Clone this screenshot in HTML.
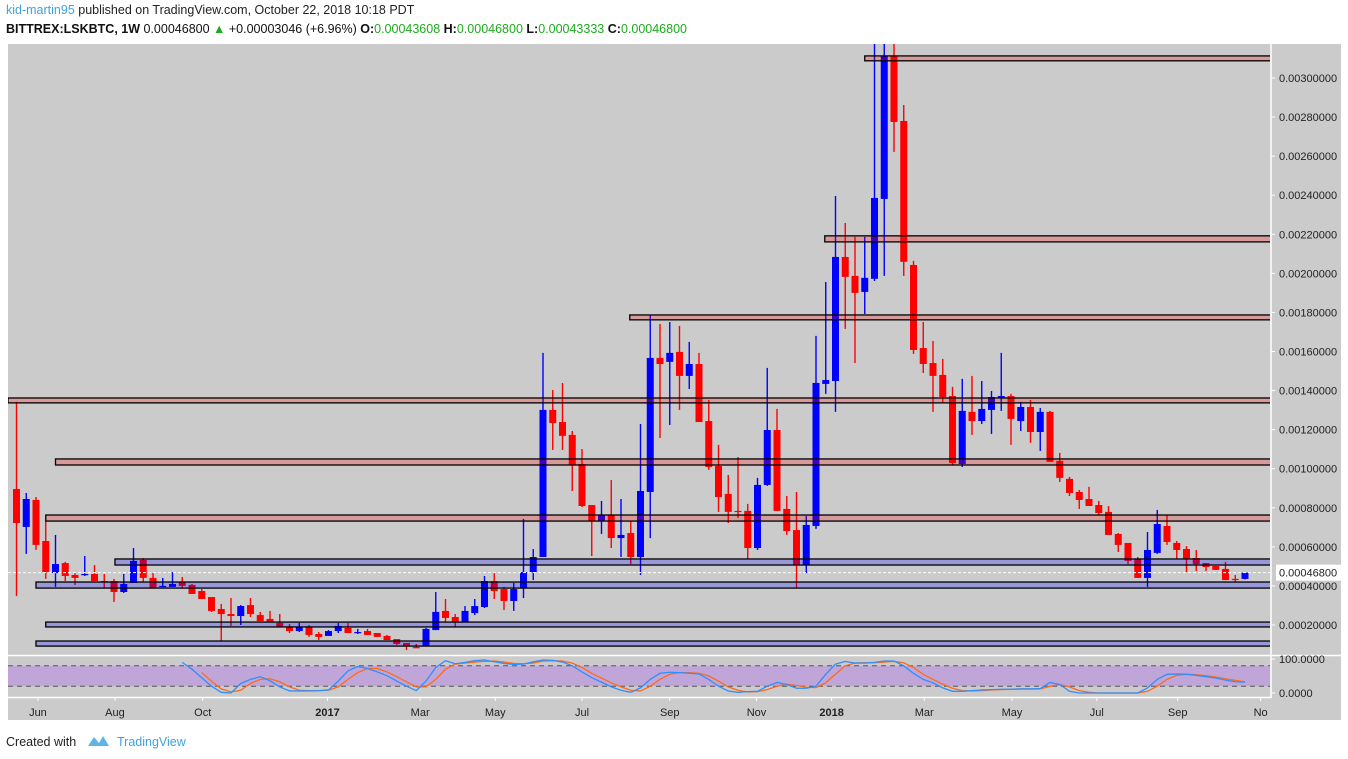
<!DOCTYPE html>
<html><head><meta charset="utf-8"><style>
body{margin:0;background:#fff;width:1348px;height:759px;overflow:hidden;font-family:"Liberation Sans",sans-serif}
svg{position:absolute;left:0;top:0}
</style></head><body>
<svg id="chart" width="1348" height="759" xmlns="http://www.w3.org/2000/svg">
<text x="6" y="14" font-size="12.5" fill="#222"><tspan fill="#3fa1dc">kid-martin95</tspan> published on TradingView.com, October 22, 2018 10:18 PDT</text>
<text x="6" y="33" font-size="12.5" fill="#111"><tspan font-weight="bold">BITTREX:LSKBTC, 1W</tspan> 0.00046800 <tspan fill="#1eaa1e">▲</tspan> +0.00003046 (+6.96%) <tspan font-weight="bold">O:</tspan><tspan fill="#1eaa1e">0.00043608</tspan> <tspan font-weight="bold">H:</tspan><tspan fill="#1eaa1e">0.00046800</tspan> <tspan font-weight="bold">L:</tspan><tspan fill="#1eaa1e">0.00043333</tspan> <tspan font-weight="bold">C:</tspan><tspan fill="#1eaa1e">0.00046800</tspan></text>
<rect x="8" y="44" width="1333" height="676" fill="#cbcbcb"/>
<defs><clipPath id="mainclip"><rect x="8" y="44" width="1262" height="611"/></clipPath><clipPath id="subclip"><rect x="8" y="657" width="1262" height="40"/></clipPath></defs>
<g id="candles" clip-path="url(#mainclip)"></g>
<g id="zones" clip-path="url(#mainclip)"></g>
<line x1="8" x2="1270" y1="572.6" y2="572.6" stroke="#fff" stroke-dasharray="3,2"/>
<g id="stoch"></g>
<line x1="1271" x2="1271" y1="44" y2="698" stroke="#fff" stroke-width="1.5"/>
<line x1="8" x2="1341" y1="655.5" y2="655.5" stroke="#fff" stroke-width="1.5"/>
<line x1="8" x2="1271" y1="697.5" y2="697.5" stroke="#fff" stroke-width="1.5"/>
<g id="yaxis"></g>
<g id="xaxis"></g>
<text x="6" y="746" font-size="12.5" fill="#222">Created with</text>
<path d="M88 746 l6 -9 l5 6 l4 -7 l6 10 z" fill="#5fb4e6"/>
<text x="117" y="746" font-size="12.5" fill="#3fa1dc">TradingView</text>
</svg>
<script>
// prices in units of 1e-5 BTC
const opens=[89.6,70.2,84.0,63.0,46.6,51.7,45.6,45.6,46.1,42.5,42.5,36.9,41.5,53.3,44.1,39.5,39.5,42.0,40.5,37.4,34.3,28.2,25.6,24.6,30.2,25.1,23.1,21.0,19.0,16.9,19.0,15.4,14.4,16.9,18.5,15.9,16.9,15.9,14.4,12.8,10.8,8.7,9.2,17.4,27.2,24.1,21.5,26.1,29.2,42.5,38.4,32.3,38.9,47.1,54.8,130.1,123.9,117.3,102.4,81.4,73.2,76.3,64.5,67.1,54.8,88.1,156.7,154.7,159.8,147.5,153.6,124.4,101.4,87.1,78.4,78.4,59.4,91.7,119.8,79.4,68.6,50.7,70.7,143.4,144.9,208.4,198.7,190.5,197.2,238.1,311.3,278.0,204.3,161.8,154.1,148.0,137.2,102.4,129.1,124.4,130.1,136.2,137.2,124.4,131.6,118.8,129.1,104.0,94.8,88.1,84.5,81.4,77.9,66.6,62.0,53.8,44.1,56.9,70.7,62.0,58.9,54.3,51.7,50.2,48.7,43.6,43.6];
const highs=[134.2,87.6,85.5,73.2,66.1,52.3,46.6,55.3,50.7,46.1,43.6,46.1,59.4,54.3,46.6,44.1,47.1,44.6,41.0,38.4,34.3,30.8,33.8,30.2,33.8,26.7,27.2,25.6,20.5,21.0,20.0,16.4,17.4,21.0,21.0,18.0,18.0,15.9,14.9,12.8,10.8,10.3,18.5,36.9,33.3,25.6,29.7,33.3,45.1,47.1,39.5,41.5,74.3,58.9,159.3,140.3,143.9,119.3,110.1,81.4,83.5,94.2,84.5,73.2,122.9,178.7,174.1,175.1,173.1,164.9,159.3,135.2,112.2,96.8,106.0,82.0,95.3,151.6,130.6,86.0,88.1,75.8,168.0,195.6,239.6,225.8,218.7,218.7,335,335,330,286.2,206.4,175.1,165.4,156.2,141.9,146.0,147.5,144.9,139.8,159.3,138.3,134.2,135.2,131.1,129.6,108.1,95.8,89.1,90.7,83.5,80.9,67.1,62.0,54.8,67.6,78.9,76.3,63.0,60.4,58.4,51.7,50.2,52.3,45.6,46.8];
const lows=[34.8,56.4,58.4,43.6,39.5,42.5,40.5,45.1,42.5,38.9,31.8,36.4,41.5,42.0,38.9,39.5,39.5,38.9,35.9,33.3,26.7,11.8,19.5,20.0,24.1,22.0,21.5,19.0,15.9,16.4,13.9,12.3,14.4,15.9,15.9,15.4,14.9,13.9,12.3,9.8,7.2,8.2,9.2,17.4,21.5,19.0,21.5,25.1,28.7,33.3,27.7,27.2,33.8,43.0,54.8,109.6,109.6,88.6,80.4,55.3,66.6,59.4,54.8,51.2,45.6,64.5,115.7,122.4,130.1,140.8,123.9,99.4,77.9,72.2,74.8,53.8,58.4,91.2,78.4,66.1,38.9,46.6,69.2,138.3,129.1,171.6,154.1,179.2,196.1,198.7,262.2,198.7,158.8,149.0,129.1,133.7,101.9,100.9,117.3,122.9,117.8,129.6,112.2,119.3,113.2,109.1,103.5,93.2,86.0,79.4,80.9,76.3,66.1,57.4,51.2,44.1,39.5,56.4,61.0,53.8,47.1,47.6,47.6,48.2,43.0,42.0,43.3];
const closes=[72.2,84.5,61.0,47.1,51.2,45.1,44.1,46.1,42.5,42.0,36.9,41.0,52.8,44.1,38.9,40.0,41.0,40.0,35.9,33.3,27.2,25.6,24.6,29.7,25.6,22.0,21.5,19.0,16.9,19.0,14.9,13.9,16.9,19.5,15.9,16.4,14.9,13.9,12.3,10.3,9.2,8.2,18.0,26.7,23.6,21.5,27.2,29.7,42.5,37.4,32.3,38.4,47.1,54.8,130.1,123.4,116.8,101.9,80.9,73.2,76.3,64.5,66.1,54.8,88.6,156.7,153.6,159.3,147.5,153.6,123.9,100.9,85.5,77.9,77.9,59.4,91.7,119.8,78.4,68.1,50.7,71.2,143.9,145.4,208.4,198.2,190.0,197.7,238.6,311.3,277.5,205.9,160.8,153.6,147.5,136.7,102.9,129.6,124.4,130.6,136.7,137.2,125.5,131.6,118.8,129.1,103.5,95.3,87.6,84.0,80.9,77.3,66.1,61.0,52.8,44.1,58.4,71.7,62.5,58.4,53.8,51.2,49.7,48.2,43.0,43.3,46.8];
// support/resistance zones [top, bottom, startIndex]
const zoneTops=[311.3,219.2,178.7,136.2,105.0,76.3,53.8,42.0,21.5,11.8];
const zoneBottoms=[308.8,216.1,176.2,133.7,101.9,73.2,50.7,38.9,19.0,9.2];
const zoneStarts=[87.0,82.9,62.9,-0.9,4.0,3.0,10.1,2.0,3.0,2.0];
const zoneKinds=["res","res","res","res","res","res","sup","sup","sup","sup"];
// stoch RSI (%K, %D)
const stochK=[null,null,null,null,null,null,null,null,null,null,null,null,null,null,null,null,null,90,70,45,20,2,0,28,40,48,36,18,6,6,6,7,9,35,65,78,72,62,51,35,20,7,35,75,95,86,90,95,97,92,87,84,85,92,97,96,91,80,62,45,32,18,8,2,15,40,58,61,60,58,56,40,20,6,2,4,5,20,31,25,14,14,20,55,85,93,88,88,90,94,94,80,58,40,30,15,5,5,7,9,10,11,11,12,12,13,31,25,5,0,0,0,0,0,0,0,15,40,55,56,55,52,48,44,38,33,32];
const stochD=[null,null,null,null,null,null,null,null,null,null,null,null,null,null,null,null,null,null,null,60,35,12,3,8,28,40,42,33,18,8,7,7,8,18,40,60,72,72,62,48,33,18,18,40,70,85,88,91,93,94,91,87,86,88,94,95,94,88,75,58,44,30,18,8,6,20,40,55,60,60,58,50,35,18,8,3,4,10,20,26,22,17,16,30,55,80,88,89,89,91,93,89,75,55,40,26,14,7,6,7,9,10,11,12,12,12,20,25,18,7,2,0,0,0,0,0,5,20,40,52,55,54,51,47,42,37,33];
const priceTicks=[0.003,0.0028,0.0026,0.0024,0.0022,0.002,0.0018,0.0016,0.0014,0.0012,0.001,0.0008,0.0006,0.0004,0.0002];
const timeLabels=["Jun","Aug","Oct","2017","Mar","May","Jul","Sep","Nov","2018","Mar","May","Jul","Sep","No"];
const timeLabelIdx=[2.2,10.1,19.1,31.9,41.4,49.1,58.0,67.0,75.9,83.6,93.1,102.1,110.8,119.1,127.6];
const lastPrice=46.8;

const NS="http://www.w3.org/2000/svg";
const xS=k=>16.5+9.75*k;
const yS=p=>625-(p-20)*1.9536;
const yK=v=>693-v*0.34;
function mk(tag,attrs,parent){const e=document.createElementNS(NS,tag);for(const a in attrs)e.setAttribute(a,attrs[a]);parent.appendChild(e);return e;}

const cg=document.getElementById('candles');
for(let i=0;i<opens.length;i++){
  const up=closes[i]>=opens[i];const col=up?'#0000ff':'#ff0000';const x=xS(i);
  const w=mk('line',{x1:x,x2:x,y1:yS(highs[i]),y2:yS(lows[i]),stroke:col,'stroke-width':1.4},cg);
  
  
  const t=yS(Math.max(opens[i],closes[i])),b=yS(Math.min(opens[i],closes[i]));
  const r=mk('rect',{x:x-3.5,y:t,width:7,height:Math.max(1.2,b-t),fill:col},cg);
  
  
}
const zg=document.getElementById('zones');
for(let i=0;i<zoneTops.length;i++){
  const x0=Math.max(8,xS(zoneStarts[i]));const t=yS(zoneTops[i]),b=yS(zoneBottoms[i]);
  const r=mk('rect',{x:x0,y:t,width:1270-x0+2,height:b-t,fill:zoneKinds[i]=='res'?'rgba(255,0,0,0.24)':'rgba(0,0,255,0.25)',stroke:'#000','stroke-width':1.3},zg);
  
  
}
const sg=document.getElementById('stoch');
const band=mk('rect',{x:8,y:yK(80),width:1262,height:yK(20)-yK(80),fill:'#c0a6d8'},sg);


[80,20].forEach(v=>{const l=mk('line',{x1:8,x2:1270,y1:yK(v),y2:yK(v),stroke:'#555','stroke-dasharray':'5,4'},sg);

});
function poly(arr,col,name){let pts=[];arr.forEach((v,i)=>{if(v!==null)pts.push(xS(i)+','+yK(v));});
  const p=mk('polyline',{points:pts.join(' '),fill:'none',stroke:col,'stroke-width':1.3},sg);
  
  }
poly(stochD,'#ff6a1a','stoch-d-line');
poly(stochK,'#2f8fff','stoch-k-line');

const yg=document.getElementById('yaxis');
priceTicks.forEach(p=>{const y=yS(p*1e5);
  const tk=mk('line',{x1:1271,x2:1275,y1:y,y2:y,stroke:'#fff'},yg);
  
  
  const t=mk('text',{x:1279,y:y+4,'font-size':11,fill:'#222'},yg);t.textContent=p.toFixed(8);
  
  });
const ly=yS(lastPrice);
const lb=mk('rect',{x:1276,y:ly-8,width:65,height:16,fill:'#fff'},yg);


const lt=mk('text',{x:1279,y:ly+4,'font-size':11,fill:'#222'},yg);lt.textContent=(lastPrice/1e5).toFixed(8);


[[100,'100.0000'],[0,'0.0000']].forEach(([v,s])=>{const y=yK(v);
  const tk=mk('line',{x1:1271,x2:1275,y1:y,y2:y,stroke:'#fff'},yg);
  
  
  const t=mk('text',{x:1279,y:y+4,'font-size':11,fill:'#222'},yg);t.textContent=s;
  
  });
const xg=document.getElementById('xaxis');
timeLabels.forEach((s,i)=>{const x=xS(timeLabelIdx[i]);
  const tk=mk('line',{x1:x,x2:x,y1:697,y2:701,stroke:'#fff'},xg);
  
  
  const t=mk('text',{x:x,y:716,'font-size':11,fill:'#222','text-anchor':'middle','font-weight':/^\d+$/.test(s)?'bold':'normal'},xg);t.textContent=s;
  
  });
</script>
</body></html>
